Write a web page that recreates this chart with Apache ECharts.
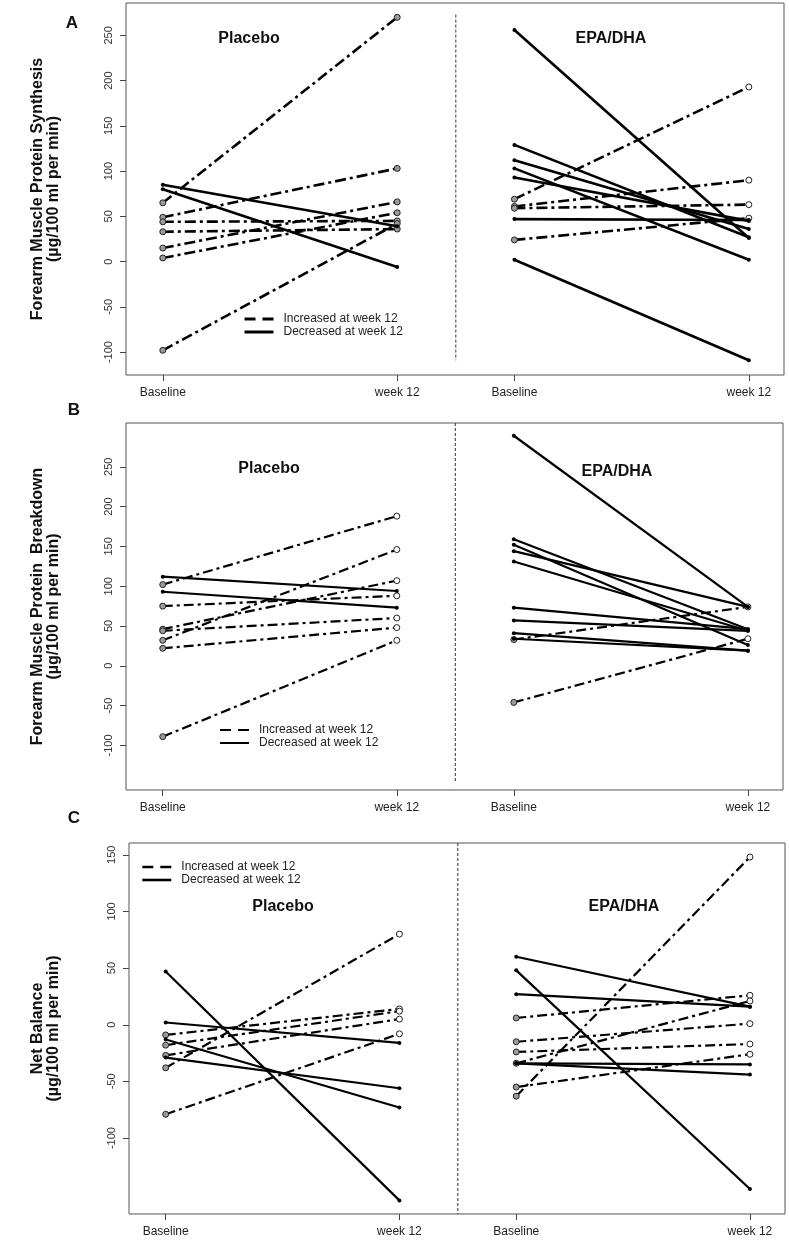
<!DOCTYPE html>
<html>
<head>
<meta charset="utf-8">
<script src="https://cdn.jsdelivr.net/npm/echarts@6/dist/echarts.min.js"></script>
<style>
html,body{margin:0;padding:0;background:#fff;}
#chart{width:789px;height:1244px;}
</style>
</head>
<body>
<div id="chart"></div>
<script>
// ---------- data ----------
const xPos = [1, 2, 2.5, 3.5];
const xTickLabels = ['Baseline', 'week 12', 'Baseline', 'week 12'];
const groupNames = ['Placebo', 'EPA/DHA'];
const legendNames = ['Increased at week 12', 'Decreased at week 12'];
const dividerX = 2.25;

// A: Forearm muscle protein synthesis
const synPlaceboBaseline = [85, 80, 65, 49, 44, 33, 15, 4, -98];
const synPlaceboWeek12   = [39, -6, 270, 103, 45, 36, 66, 54, 42];
const synEpaBaseline     = [256, 129, 112, 103, 93, 47, 2, 69, 61, 59, 24];
const synEpaWeek12       = [26, 27, 36, 2, 45, 46, -109, 193, 90, 63, 48];
const synTicks = [-100, -50, 0, 50, 100, 150, 200, 250];
const synDivider = [273, -109];

// B: Forearm muscle protein breakdown
const brkPlaceboBaseline = [112, 93, 102, 75, 46, 44, 32, 22, -89];
const brkPlaceboWeek12   = [94, 73, 188, 88, 107, 60, 146, 48, 32];
const brkEpaBaseline     = [289, 159, 152, 144, 131, 73, 57, 41, 34, 33, -46];
const brkEpaWeek12       = [74, 46, 26, 74, 44, 46, 44, 19, 19, 74, 34];
const brkTicks = [-100, -50, 0, 50, 100, 150, 200, 250];
const brkDivider = [305, -147];

// C: Net balance
const netPlaceboBaseline = [47, 2, -13, -29, -9, -18, -27, -38, -79];
const netPlaceboWeek12   = [-155, -16, -73, -56, 14, 12, 5, 80, -8];
const netEpaBaseline     = [60, 48, 27, -34, -34, 6, -15, -24, -34, -55, -63];
const netEpaWeek12       = [16, -145, 16, -35, -44, 26, 1, -17, 21, -26, 148];
const netTicks = [-100, -50, 0, 50, 100, 150];
const netDivider = [160.4, -167];

// ---------- layout / styling ----------
const FONT = 'Liberation Sans, Arial, Helvetica, sans-serif';
const panels = [
  {letter: 'A', yName: 'Forearm Muscle Protein Synthesis\n(µg/100 ml per min)',
   groups: [[synPlaceboBaseline, synPlaceboWeek12], [synEpaBaseline, synEpaWeek12]],
   ticks: synTicks, divider: synDivider,
   grid: {left: 126, right: 5, top: 3, bottom: 869}, ymin: -125.3, ymax: 285.8,
   lw: 2.6, dash: [11, 4, 3, 4], nameGap: 64, grayEnds: [true, false],
   letterPos: [72, 23], titleY: [39, 39], titleX: [249, 611],
   legend: {left: 243, top: 313, lw: 3}},
  {letter: 'B', yName: 'Forearm Muscle Protein  Breakdown\n(µg/100 ml per min)',
   groups: [[brkPlaceboBaseline, brkPlaceboWeek12], [brkEpaBaseline, brkEpaWeek12]],
   ticks: brkTicks, divider: brkDivider,
   grid: {left: 126, right: 6, top: 423, bottom: 454}, ymin: -156, ymax: 305,
   lw: 2.2, dash: [10, 4, 3, 4], nameGap: 64, grayEnds: [false, false],
   letterPos: [74, 410], titleY: [469, 472], titleX: [269, 617],
   legend: {left: 219, top: 724, lw: 2}},
  {letter: 'C', yName: 'Net Balance\n(µg/100 ml per min)',
   groups: [[netPlaceboBaseline, netPlaceboWeek12], [netEpaBaseline, netEpaWeek12]],
   ticks: netTicks, divider: netDivider,
   grid: {left: 129, right: 4, top: 843, bottom: 30}, ymin: -167, ymax: 160.4,
   lw: 2.2, dash: [10, 4, 3, 4], nameGap: 67, grayEnds: [false, false],
   letterPos: [74, 818], titleY: [907, 907], titleX: [283, 624],
   legend: {left: 141, top: 861, lw: 2.6}}
];

const grids = [], xAxes = [], yAxes = [], series = [], graphics = [], legends = [];

panels.forEach((p, pi) => {
  grids.push(Object.assign({show: true, borderColor: '#555', borderWidth: 1, containLabel: false}, p.grid));
  xAxes.push({
    type: 'value', gridIndex: pi, min: 0.843, max: 3.65, position: 'bottom',
    axisLine: {show: false, onZero: false}, splitLine: {show: false},
    axisTick: {show: true, length: 6, inside: false, customValues: xPos, lineStyle: {color: '#444'}},
    axisLabel: {show: true, customValues: xPos, margin: 12, fontSize: 12, color: '#222', fontFamily: FONT,
      formatter: v => xTickLabels[xPos.indexOf(v)] || ''}
  });
  yAxes.push({
    type: 'value', gridIndex: pi, min: p.ymin, max: p.ymax, position: 'left',
    axisLine: {show: false, onZero: false}, splitLine: {show: false},
    axisTick: {show: true, length: 6, customValues: p.ticks, lineStyle: {color: '#444'}},
    axisLabel: {show: true, customValues: p.ticks, rotate: 90, margin: 12, fontSize: 11, color: '#333',
      fontFamily: 'Liberation Sans Narrow, Liberation Sans, Arial, sans-serif'},
    name: p.yName, nameLocation: 'middle', nameGap: p.nameGap, nameRotate: 90,
    nameTextStyle: {fontSize: 16, fontWeight: 'bold', lineHeight: 16, color: '#111', fontFamily: FONT, align: 'center'}
  });

  // divider between the two groups
  series.push({
    type: 'line', xAxisIndex: pi, yAxisIndex: pi, silent: true, symbol: 'none',
    data: [[dividerX, p.divider[0]], [dividerX, p.divider[1]]],
    lineStyle: {color: '#333', width: 1, type: [3, 2]}, z: 1
  });

  p.groups.forEach((g, gi) => {
    const base = g[0], wk = g[1];
    const x0 = xPos[gi * 2], x1 = xPos[gi * 2 + 1];
    base.forEach((b, j) => {
      const w = wk[j];
      const inc = w > b;
      const endFill = p.grayEnds[gi] ? '#9a9a9a' : '#fff';
      series.push({
        type: 'line', xAxisIndex: pi, yAxisIndex: pi, silent: true,
        symbol: 'circle', symbolSize: inc ? 6 : 4, showSymbol: true,
        lineStyle: {color: '#000', width: p.lw, type: inc ? p.dash : 'solid'},
        itemStyle: inc ? {color: '#9a9a9a', borderColor: '#222', borderWidth: 1} : {color: '#000', borderWidth: 0},
        data: inc
          ? [{value: [x0, b]}, {value: [x1, w], itemStyle: {color: endFill, borderColor: '#222', borderWidth: 1}}]
          : [[x0, b], [x1, w]],
        z: inc ? 3 : 4
      });
    });
  });

  // panel letter and group titles
  graphics.push({type: 'text', x: p.letterPos[0], y: p.letterPos[1],
    style: {text: p.letter, font: 'bold 17px ' + FONT, fill: '#111', textAlign: 'center', textVerticalAlign: 'middle'}});
  groupNames.forEach((nm, gi) => {
    graphics.push({type: 'text', x: p.titleX[gi], y: p.titleY[gi],
      style: {text: nm, font: 'bold 16px ' + FONT, fill: '#111', textAlign: 'center', textVerticalAlign: 'middle'}});
  });

  legends.push({
    left: p.legend.left, top: p.legend.top, orient: 'vertical', selectedMode: false,
    itemWidth: 29, itemHeight: 12, itemGap: 1, padding: 0,
    textStyle: {fontSize: 12, color: '#222', fontFamily: FONT, padding: [0, 0, 0, 5]},
    data: [
      {name: legendNames[0], itemStyle: {opacity: 0, color: 'rgba(0,0,0,0)', borderWidth: 0},
       lineStyle: {color: '#000', width: p.legend.lw, type: [11, 7]}},
      {name: legendNames[1], itemStyle: {opacity: 0, color: 'rgba(0,0,0,0)', borderWidth: 0},
       lineStyle: {color: '#000', width: p.legend.lw, type: 'solid'}}
    ]
  });
});

// dummy series for the legend entries
legendNames.forEach((nm, i) => {
  series.push({type: 'line', name: nm, xAxisIndex: 0, yAxisIndex: 0, data: [], symbol: 'none',
    itemStyle: {color: 'rgba(0,0,0,0)'},
    lineStyle: {color: '#000', width: 3, type: i === 0 ? [11, 7] : 'solid'}});
});

const chart = echarts.init(document.getElementById('chart'), null, {renderer: 'canvas'});
chart.setOption({
  animation: false,
  backgroundColor: '#fff',
  grid: grids, xAxis: xAxes, yAxis: yAxes,
  legend: legends,
  series: series,
  graphic: graphics
});
</script>
</body>
</html>
